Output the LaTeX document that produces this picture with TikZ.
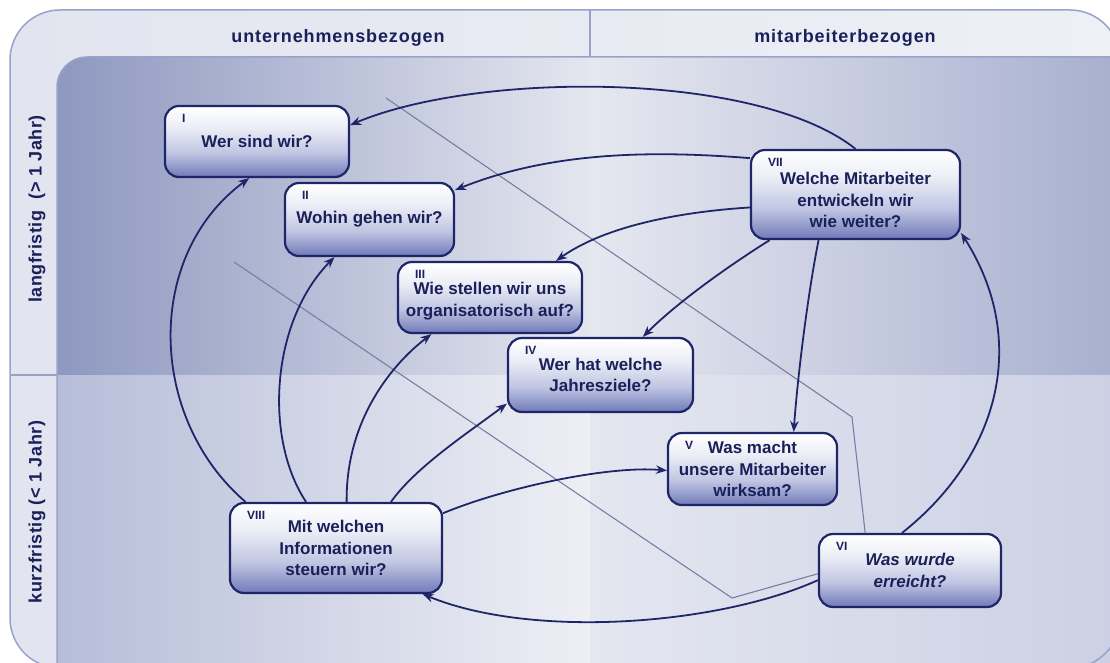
\documentclass[tikz,border=0pt]{standalone}
\usepackage{fontspec}
\setmainfont{Liberation Sans}
\usetikzlibrary{arrows.meta}

\definecolor{ink}{RGB}{26,32,90}
\definecolor{edge}{RGB}{30,38,105}
\definecolor{boxblue}{RGB}{112,122,184}
\definecolor{boxmid}{RGB}{192,197,226}
\definecolor{boxtop}{RGB}{236,238,246}
\definecolor{rulecol}{RGB}{155,162,202}
\definecolor{threadcol}{RGB}{120,126,165}
\definecolor{frameL}{RGB}{226,229,239}
\definecolor{frameR}{RGB}{238,240,246}
\definecolor{ulL}{RGB}{142,152,192}
\definecolor{ulR}{RGB}{228,230,239}
\definecolor{urL}{RGB}{230,232,240}
\definecolor{urR}{RGB}{165,173,206}
\definecolor{llL}{RGB}{182,189,216}
\definecolor{llR}{RGB}{238,239,245}
\definecolor{lrL}{RGB}{228,231,240}
\definecolor{lrM}{RGB}{244,245,249}
\definecolor{lrR}{RGB}{202,207,227}

\pgfdeclareverticalshading{boxshade}{100bp}{color(0bp)=(boxblue); color(25bp)=(boxblue); color(42bp)=(boxmid); color(60bp)=(boxtop); color(75bp)=(white); color(100bp)=(white)}
\newcommand{\toppad}[1]{\rule{0pt}{#1}}

\begin{document}
\begin{tikzpicture}[x=1pt, y=-1pt,
    box/.style={draw=edge, line width=2.2pt, rounded corners=14pt, shading=boxshade,
      align=center, text=ink, inner sep=2pt,
      font=\fontsize{17}{21.5}\selectfont\bfseries},
    ital/.style={font=\fontsize{17}{21.5}\selectfont\bfseries\itshape},
    num/.style={anchor=north west, inner sep=0pt, xshift=18pt, yshift=-9pt,
      text=ink, font=\fontsize{12}{12}\selectfont\bfseries},
    link/.style={draw=edge, line width=1.8pt, -{Stealth[length=11pt,width=8.5pt]}},
    thread/.style={draw=threadcol, line width=1.1pt},
    rule/.style={draw=rulecol, line width=1.5pt},
    head/.style={text=ink, inner sep=0pt,
      font=\fontsize{18}{20}\selectfont\bfseries\addfontfeature{LetterSpace=5}},
    side/.style={text=ink, inner sep=0pt, rotate=90,
      font=\fontsize{18}{20}\selectfont\bfseries\addfontfeature{LetterSpace=3}}]
  \useasboundingbox (0,0) rectangle (1110,663);
  \clip (0,0) rectangle (1110,663);
  % frame
  \shade[left color=frameL, right color=frameR, rounded corners=50pt]
    (10,10) rectangle (1120,668);
  % quadrants
  \begin{scope}
    \clip[rounded corners=30pt] (57,57) rectangle (1140,700);
    \shade[left color=ulL, right color=ulR] (57,57) rectangle (590,375);
    \shade[left color=urL, right color=urR] (590,57) rectangle (1140,375);
    \shade[left color=llL, right color=llR] (57,375) rectangle (590,700);
    \shade[left color=lrL, middle color=lrM, right color=lrR] (590,375) rectangle (1140,700);
  \end{scope}
  \draw[rule, rounded corners=50pt] (10,10) rectangle (1120,668);
  \draw[rule, rounded corners=30pt] (1120,57) -- (57,57) -- (57,668);
  \draw[rule] (590,10) -- (590,57);
  \draw[rule] (10,375) -- (57,375);
  % headings
  \node[head] (colA) at (338,38) {unternehmensbezogen};
  \node[head] (colB) at (845,38) {mitarbeiterbezogen};
  \node[side] (rowA) at (37,209) {langfristig~~(> 1 Jahr)};
  \node[side] (rowB) at (37,512) {kurzfristig (< 1 Jahr)};
  % questions
  \node[box, minimum width=184pt, minimum height=71pt, label={[num]north west:I}]
    (wer) at (257,141.5) {Wer sind wir?};
  \node[box, minimum width=169pt, minimum height=73pt, label={[num]north west:II}]
    (wohin) at (369.5,219.5) {Wohin gehen wir?};
  \node[box, minimum width=184pt, minimum height=71pt, label={[num]north west:III}]
    (orga) at (490,297.5) {\toppad{20pt}Wie stellen wir uns\\organisatorisch auf?};
  \node[box, minimum width=185pt, minimum height=74pt, label={[num]north west:IV}]
    (ziele) at (600.5,375) {Wer hat welche\\Jahresziele?};
  \node[box, minimum width=169pt, minimum height=72pt, label={[num]north west:V}]
    (wirk) at (752.5,469) {Was macht\\unsere Mitarbeiter\\wirksam?};
  \node[box, ital, minimum width=182pt, minimum height=73pt, label={[num]north west:VI}]
    (erreicht) at (910,570.5) {Was wurde\\erreicht?};
  \node[box, minimum width=209pt, minimum height=89pt, label={[num]north west:VII}]
    (mitarb) at (855.5,194.5) {\toppad{24pt}Welche Mitarbeiter\\entwickeln wir\\wie weiter?};
  \node[box, minimum width=212pt, minimum height=90pt, label={[num]north west:VIII}]
    (info) at (336,548) {Mit welchen\\Informationen\\steuern wir?};
  % thin guide lines
  \coordinate (ta) at (386,98);
  \coordinate (tab) at (852,417);
  \coordinate (tb) at (234,262);
  \coordinate (tbb) at (732,598);
  \draw[thread] (ta) -- (tab) -- (erreicht.140);
  \draw[thread] (tb) -- (tbb) -- (erreicht.182);
  % from VII
  \draw[link] (mitarb.90) .. controls +(-98,-78) and +(128,-54) .. (wer.10);
  \draw[link] (mitarb.161) .. controls +(-100,-8) and +(95,-38) .. (wohin.19);
  \draw[link] (mitarb.187) .. controls +(-80,5) and +(45,-32) .. (orga.29);
  \draw[link] (mitarb.208) .. controls +(-40,25) and +(35,-35) .. (ziele.42);
  \draw[link] (mitarb.231) .. controls +(-12,60) and +(3,-45) .. (wirk.42);
  % from VI
  \draw[link] (erreicht.102) .. controls +(95,-75) and +(70,110) .. (mitarb.340);
  \draw[link] (erreicht.186) .. controls +(-100,45) and +(110,45) .. (info.332);
  % from VIII
  \draw[link] (info.153) .. controls +(-98,-84) and +(-105,77) .. (wer.258);
  \draw[link] (info.123) .. controls +(-42,-63) and +(-64,65) .. (wohin.227);
  \draw[link] (info.77) .. controls +(-1,-83) and +(-38,29) .. (orga.212);
  \draw[link] (info.40) .. controls +(25,-35) and +(-40,30) .. (ziele.197);
  \draw[link] (info.18) .. controls +(60,-25) and +(-60,-5) .. (wirk.181);
\end{tikzpicture}
\end{document}
